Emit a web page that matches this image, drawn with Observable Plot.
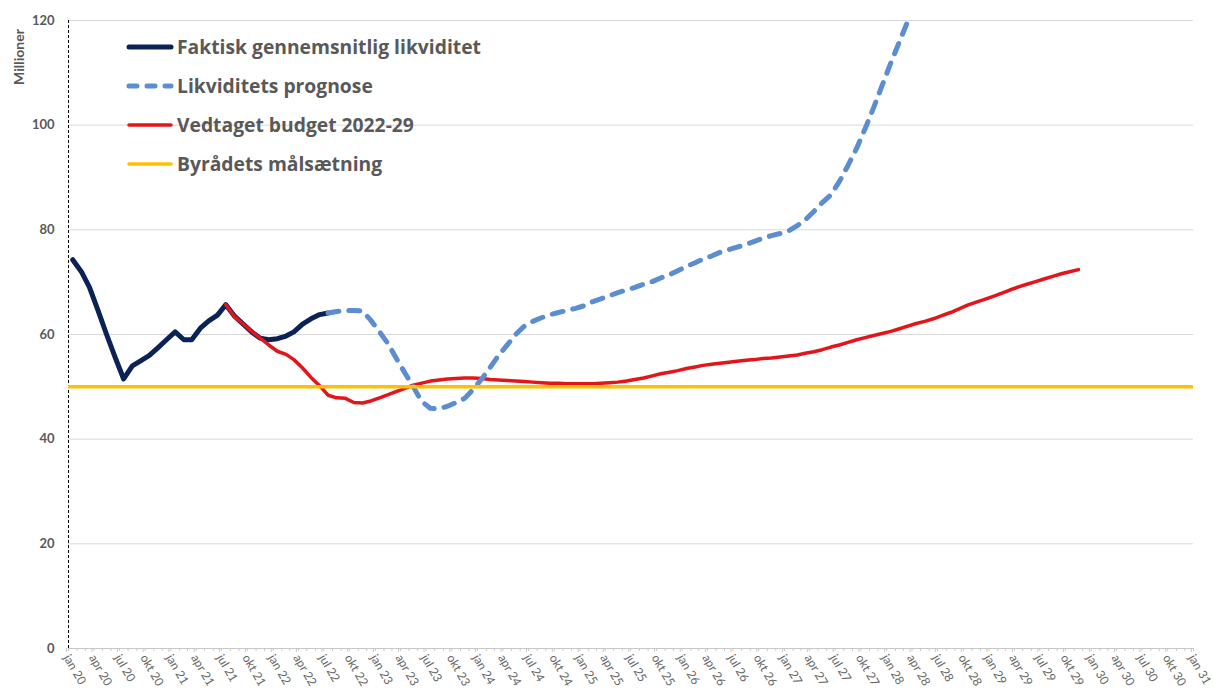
<!DOCTYPE html>
<html>
<head>
<meta charset="utf-8">
<script src="https://cdn.jsdelivr.net/npm/d3@7"></script>
<script src="https://cdn.jsdelivr.net/npm/@observablehq/plot@0.6"></script>
<style>
  html, body { margin: 0; padding: 0; background: #fff; overflow: hidden; }
  #wrap { position: relative; width: 1213px; height: 700px; font-family: Lato, "Open Sans", sans-serif; }
  #ylabel { position: absolute; left: 18px; top: 57px; transform: translate(-50%, -50%) rotate(-90deg); font-size: 14px; font-weight: bold; color: #595959; white-space: nowrap; }
  #legend { position: absolute; left: 126px; top: 27px; }
  .row { display: flex; align-items: center; height: 39px; font-family: "Open Sans", sans-serif; font-size: 19.3px; font-weight: bold; color: #595959; white-space: nowrap; }
  .row svg { margin-right: 3px; }
</style>
</head>
<body>
<div id="wrap">
  <div id="chart"></div>
  <div id="ylabel">Millioner</div>
  <div id="legend"></div>
</div>
<script>
// ---- data (monthly values, millions DKK) ----
const seriesNames = ["Faktisk gennemsnitlig likviditet", "Likviditets prognose", "Vedtaget budget 2022-29", "Byrådets målsætning"];
const seriesColors = ["#0b2257", "#5b8dd0", "#e3151a", "#ffc000"];

// Faktisk: jan 2020 .. jul 2022
const actualStart = 0;
const actual = [74.3, 72, 69, 64.5, 60, 55.6, 51.5, 54, 55, 56, 57.5, 59, 60.5, 59, 59,
  61.2, 62.6, 63.7, 65.7, 63.5, 62, 60.5, 59.3, 59, 59.2, 59.7, 60.5, 62, 63, 63.8, 64.1];

// Prognose: jul 2022 .. apr 2028 (continues above the axis)
const forecastStart = 30;
const forecast = [64.1, 64.4, 64.6, 64.6, 64.5, 62.7, 60.5, 58.2, 55.5, 52.7, 50, 47.2, 45.9, 45.8,
  46.3, 47, 47.8, 49.5, 51.5, 53.8, 56, 58, 60, 61.6, 62.5, 63.2, 63.8, 64.2, 64.6, 65,
  65.5, 66.3, 66.8, 67.4, 68, 68.5, 69, 69.6, 70.1, 70.8, 71.4, 72.2, 73, 73.7, 74.4,
  75, 75.7, 76.2, 76.7, 77.2, 77.8, 78.4, 78.9, 79.3, 79.8, 80.8, 81.9, 83.5, 85.2, 86.7,
  89.2, 92.3, 95.6, 99.3, 103.4, 107.6, 111.9, 116, 119.8, 123.5];

// Vedtaget budget: jul 2021 .. nov 2029
const budgetStart = 18;
const budget = [65.7, 63.4, 62, 60.6, 59.3, 58, 56.8, 56.2, 55.2, 53.6, 51.8, 50.2, 48.4, 47.9,
  47.8, 47, 46.9, 47.3, 47.9, 48.5, 49.1, 49.7, 50.3, 50.7, 51.1, 51.3, 51.5, 51.6, 51.7,
  51.7, 51.6, 51.4, 51.3, 51.2, 51.1, 51, 50.9, 50.8, 50.7, 50.7, 50.6, 50.6, 50.6, 50.6,
  50.7, 50.8, 50.9, 51.1, 51.4, 51.7, 52.1, 52.5, 52.8, 53.1, 53.5, 53.8, 54.1, 54.3,
  54.5, 54.7, 54.9, 55.1, 55.2, 55.4, 55.5, 55.7, 55.9, 56.1, 56.4, 56.7, 57.1, 57.6,
  58, 58.5, 59, 59.4, 59.8, 60.2, 60.6, 61.1, 61.6, 62.1, 62.5, 63, 63.6, 64.2, 64.9,
  65.6, 66.2, 66.7, 67.3, 67.9, 68.5, 69.1, 69.6, 70.1, 70.6, 71.1, 71.6, 72, 72.4];

// Byrådets målsætning
const target = 50;

// axis
const yTicks = [0, 20, 40, 60, 80, 100, 120];
const monthNames = ["jan", "apr", "jul", "okt"];
const xStartYear = 2020, xEndYear = 2031;

// ---- build ----
const monthDate = k => new Date(Date.UTC(xStartYear, k, 16));
const toRows = (vals, start) => vals.map((v, i) => ({date: monthDate(start + i), value: v}));
const x0 = new Date(Date.UTC(xStartYear, 0, 1));
const x1 = new Date(Date.UTC(xEndYear, 0, 1));
const months = d3.utcMonth.range(x0, d3.utcMonth.offset(x1, 1));
const quarters = d3.utcMonth.every(3).range(x0, d3.utcMonth.offset(x1, 1));
const fmt = d => monthNames[d.getUTCMonth() / 3] + " " + String(d.getUTCFullYear() % 100).padStart(2, "0");

const lineBase = {x: "date", y: "value", strokeLinejoin: "round", strokeLinecap: "round", clip: "frame"};

const chart = Plot.plot({
  width: 1213, height: 700,
  marginLeft: 68, marginRight: 20, marginTop: 20, marginBottom: 52,
  style: {fontFamily: "Lato, 'Open Sans', sans-serif", background: "#fff", overflow: "visible"},
  x: {type: "utc", domain: [x0, x1]},
  y: {domain: [0, 120]},
  marks: [
    Plot.gridY(yTicks.filter(d => d > 0), {stroke: "#d9d9d9", strokeOpacity: 1}),
    Plot.ruleY([0], {stroke: "#c8c8c8", strokeWidth: 1}),
    Plot.axisX(months, {tickSize: 3, tickFormat: () => "", stroke: "#c8c8c8", label: null}),
    Plot.axisX(quarters, {tickSize: 4, tickRotate: 60, tickPadding: 3, dx: -2, tickFormat: fmt, stroke: "#c8c8c8",
      fill: "#666", fontSize: 12, label: null}),
    Plot.axisY(yTicks, {tickSize: 0, tickPadding: 14, fontSize: 13, fontWeight: "bold", fill: "#595959", label: null}),
    Plot.ruleX([x0], {stroke: "#000", strokeDasharray: "3,2", strokeWidth: 1}),
    Plot.lineY(toRows(actual, actualStart), {...lineBase, stroke: seriesColors[0], strokeWidth: 5}),
    Plot.lineY(toRows(budget, budgetStart), {...lineBase, stroke: seriesColors[2], strokeWidth: 3.5}),
    Plot.lineY(toRows(forecast, forecastStart), {...lineBase, stroke: seriesColors[1], strokeWidth: 5, strokeDasharray: "11,10"}),
    Plot.ruleY([target], {stroke: seriesColors[3], strokeWidth: 3.5})
  ]
});
document.getElementById("chart").appendChild(chart);

// legend
const legend = d3.select("#legend");
seriesNames.forEach((name, i) => {
  const row = legend.append("div").attr("class", "row");
  const s = row.append("svg").attr("width", 48).attr("height", 10);
  s.append("line").attr("x1", 3).attr("x2", 45).attr("y1", 5).attr("y2", 5)
    .attr("stroke", seriesColors[i])
    .attr("stroke-width", i === 0 || i === 1 ? 5 : 3.5)
    .attr("stroke-linecap", "round")
    .attr("stroke-dasharray", i === 1 ? "8,10" : null);
  row.append("span").text(name);
});
</script>
</body>
</html>
